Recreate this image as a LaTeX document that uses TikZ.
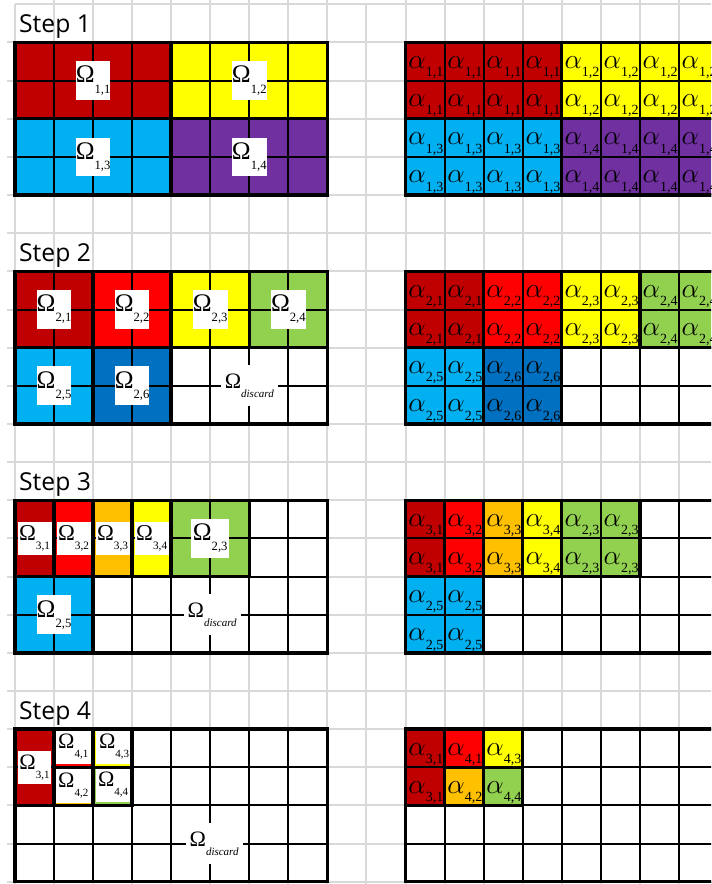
\documentclass[tikz,border=0pt]{standalone}
\usepackage{fontspec}
\setmainfont{Liberation Serif}
\newfontfamily\stepfont{Open Sans}
\definecolor{deepred}{RGB}{192,0,0}
\definecolor{brightred}{RGB}{255,0,0}
\definecolor{sunyellow}{RGB}{255,255,0}
\definecolor{leafgreen}{RGB}{146,208,80}
\definecolor{skyblue}{RGB}{0,176,240}
\definecolor{oceanblue}{RGB}{0,112,192}
\definecolor{plum}{RGB}{112,48,160}
\definecolor{amber}{RGB}{255,192,0}
\definecolor{gridgrey}{RGB}{217,217,217}
\newcommand{\OmLab}[1]{Ω\raisebox{-0.4em}{\scalebox{0.5}{#1}}}
\newcommand{\AlLab}[1]{$\alpha$\raisebox{-0.3em}{\scalebox{0.5}{#1}}}

\begin{document}
\begin{tikzpicture}[x=29.2875pt, y=-28.6125pt,
  gridline/.style={gridgrey, line width=1.5pt},
  thinline/.style={black, line width=1.5pt},
  thickline/.style={black, line width=2.6pt},
  steplab/.style={anchor=base west, inner sep=0pt, font=\stepfont\fontsize{18.5}{20}\selectfont},
  omlab/.style={fill=white, inner sep=0pt, minimum width=24.75pt, minimum height=29pt, font=\fontsize{19}{19}\selectfont},
  omsmall/.style={fill=white, inner sep=0pt, minimum width=25.5pt, minimum height=24.75pt, font=\fontsize{17}{17}\selectfont},
  omtiny/.style={fill=white, inner sep=0pt, font=\fontsize{16.5}{16.5}\selectfont},
  discard/.style={fill=white, inner xsep=3pt, inner ysep=0pt, minimum height=31pt, font=\fontsize{16.5}{16.5}\selectfont},
  alab/.style={anchor=base, inner sep=0pt, font=\fontsize{21}{21}\selectfont}]
  \useasboundingbox (-0.3841,-0.1127) rectangle (17.8233,23.059);
  \clip (-0.3841,-0.1127) rectangle (17.8233,23.059);
  \fill[white] (-0.3841,-0.1127) rectangle (17.8233,23.059);

  % sheet grid
  \draw[gridline] (0,0) -- (17.9,0);
  \foreach \r in {1,...,23}
    \draw[gridline] (-0.21,\r) -- (17.9,\r);
  \foreach \c in {0,9}
    \draw[gridline] (\c,0) -- (\c,23.1);
  \foreach \c in {1,...,8}
    \draw[gridline] (\c,-0.2) -- (\c,23.1);
  \foreach \c in {10,...,17}
    \draw[gridline] (\c,-0.2) -- (\c,23.1);

  % blocks: x0/y0/x1/y1/colour (left), plus subscript (right)
  \def\leftgroups{0/1/4/3/deepred, 4/1/8/3/sunyellow, 0/3/4/5/skyblue, 4/3/8/5/plum,
    0/7/2/9/deepred, 2/7/4/9/brightred, 4/7/6/9/sunyellow, 6/7/8/9/leafgreen, 0/9/2/11/skyblue, 2/9/4/11/oceanblue,
    0/13/1/15/deepred, 1/13/2/15/brightred, 2/13/3/15/amber, 3/13/4/15/sunyellow, 4/13/6/15/leafgreen, 0/15/2/17/skyblue,
    0/19/1/21/deepred, 1/19/2/20/brightred, 2/19/3/20/sunyellow, 1/20/2/21/amber, 2/20/3/21/leafgreen}
  \def\rightgroups{10/1/14/3/deepred/{1,1}, 14/1/18/3/sunyellow/{1,2}, 10/3/14/5/skyblue/{1,3}, 14/3/18/5/plum/{1,4},
    10/7/12/9/deepred/{2,1}, 12/7/14/9/brightred/{2,2}, 14/7/16/9/sunyellow/{2,3}, 16/7/18/9/leafgreen/{2,4},
    10/9/12/11/skyblue/{2,5}, 12/9/14/11/oceanblue/{2,6},
    10/13/11/15/deepred/{3,1}, 11/13/12/15/brightred/{3,2}, 12/13/13/15/amber/{3,3}, 13/13/14/15/sunyellow/{3,4},
    14/13/16/15/leafgreen/{2,3}, 10/15/12/17/skyblue/{2,5},
    10/19/11/21/deepred/{3,1}, 11/19/12/20/brightred/{4,1}, 12/19/13/20/sunyellow/{4,3},
    11/20/12/21/amber/{4,2}, 12/20/13/21/leafgreen/{4,4}}
  \foreach \xa/\ya/\xb/\yb/\col in \leftgroups
    \fill[\col] (\xa,\ya) rectangle (\xb,\yb);
  \foreach \xa/\ya/\xb/\yb/\col/\sub in \rightgroups
    \fill[\col] (\xa,\ya) rectangle (\xb,\yb);

  % step 4 cells nearly hidden under their labels
  \node[omtiny, minimum width=29.3pt, minimum height=25.8pt, anchor=north east] (o41) at (2,19) {\OmLab{4,1}};
  \node[omtiny, minimum width=26.6pt, minimum height=25.8pt, anchor=north east] (o43) at (3,19) {\OmLab{4,3}};
  \node[omtiny, minimum width=29.3pt, minimum height=26.4pt, anchor=north east] (o42) at (2,20) {\OmLab{4,2}};
  \node[omtiny, minimum width=25.1pt, minimum height=25.8pt, anchor=north east] (o44) at ([xshift=-1.5pt]3,20) {\OmLab{4,4}};

  % cell lines
  \foreach \t in {1,7,13,19} {
    \foreach \c in {0,...,8}
      \draw[thinline] (\c,\t) -- (\c,\t+4);
    \foreach \c in {10,...,18}
      \draw[thinline] (\c,\t) -- (\c,\t+4);
    \foreach \r in {0,...,4} {
      \draw[thinline] (0,\t+\r) -- (8,\t+\r);
      \draw[thinline] (10,\t+\r) -- (18,\t+\r);
    }
  }
  \foreach \xa/\ya/\xb/\yb/\col in \leftgroups
    \draw[thickline] (\xa,\ya) rectangle (\xb,\yb);
  \foreach \xa/\ya/\xb/\yb/\col/\sub in \rightgroups
    \draw[thickline] (\xa,\ya) rectangle (\xb,\yb);
  \foreach \t in {1,7,13,19} {
    \draw[thickline] (0,\t) rectangle (8,\t+4);
    \draw[thickline] (10,\t) rectangle (18,\t+4);
  }

  % step titles
  \foreach \n/\y in {1/0, 2/6, 3/12, 4/18}
    \node[steplab] (step\n) at (0.1,\y+0.74) {Step \n};

  % alpha entries, one per cell
  \foreach \xa/\ya/\xb/\yb/\col/\sub in \rightgroups {
    \pgfmathtruncatemacro\xe{\xb-1}
    \pgfmathtruncatemacro\ye{\yb-1}
    \foreach \x in {\xa,...,\xe}
      \foreach \y in {\ya,...,\ye}
        \node[alab] (a-\x-\y) at (\x+0.52,\y+0.68) {\AlLab{\sub}};
  }

  % omega labels
  \node[omlab] (o11) at (2,2) {\OmLab{1,1}};
  \node[omlab] (o12) at (6,2) {\OmLab{1,2}};
  \node[omlab] (o13) at (2,4) {\OmLab{1,3}};
  \node[omlab] (o14) at (6,4) {\OmLab{1,4}};
  \foreach \x/\y/\s in {1/8/{2,1}, 3/8/{2,2}, 5/8/{2,3}, 7/8/{2,4}, 1/10/{2,5}, 3/10/{2,6}}
    \node[omlab] (o-\x-\y) at (\x,\y) {\OmLab{\s}};
  \node[discard] (d2) at (6,10) {\OmLab{\textit{discard}}};
  \foreach \x/\s in {0.5/{3,1}, 1.5/{3,2}, 2.5/{3,3}, 3.5/{3,4}}
    \node[omsmall] (o3-\x) at (\x,14) {\OmLab{\s}};
  \node[omlab, minimum width=28.5pt] (o323) at (5,14) {\OmLab{2,3}};
  \node[omlab] (o325) at (1,16) {\OmLab{2,5}};
  \node[discard] (d3) at (5.05,16) {\OmLab{\textit{discard}}};
  \node[omtiny, minimum width=25pt, minimum height=25pt] (o431) at (0.5,20) {\OmLab{3,1}};
  \node[discard] (d4) at (5.1,22) {\OmLab{\textit{discard}}};
\end{tikzpicture}
\end{document}
